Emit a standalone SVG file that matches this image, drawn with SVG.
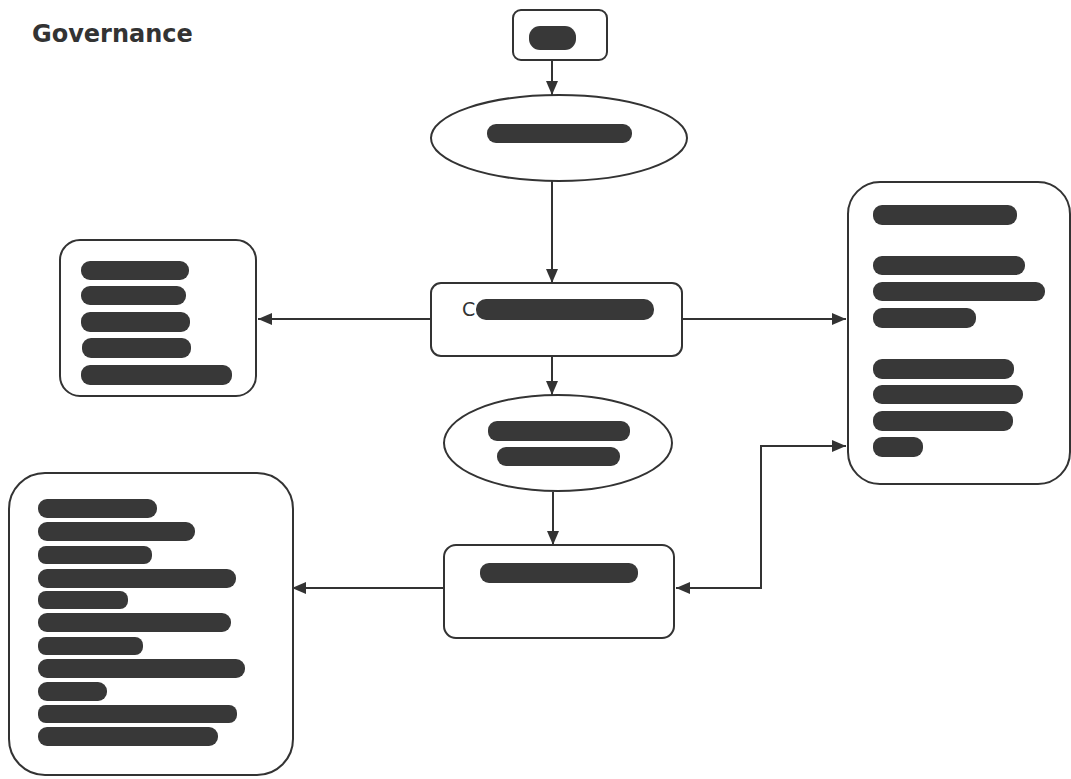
<svg xmlns="http://www.w3.org/2000/svg" width="1071" height="779" viewBox="0 0 1071 779">
<style>
.node{fill:#fff;stroke:#333;stroke-width:2}
.bar{fill:#383838}
.edge{fill:none;stroke:#333;stroke-width:2}
.t{font-family:"DejaVu Sans",Verdana,sans-serif;fill:#333}
</style>
<defs>
<marker id="ah" viewBox="0 0 14 12" refX="14" refY="6" markerWidth="14" markerHeight="12" markerUnits="userSpaceOnUse" orient="auto-start-reverse">
<path d="M0,0 L14,6 L0,12 Z" fill="#333"/>
</marker>
</defs>
<rect width="1071" height="779" fill="#fff"/>
<text class="t" x="32" y="42" font-size="24" font-weight="bold">Governance</text>

<g id="connectors">
<line class="edge" x1="552" y1="60" x2="552" y2="95" marker-end="url(#ah)"/>
<line class="edge" x1="552" y1="181" x2="552" y2="283" marker-end="url(#ah)"/>
<line class="edge" x1="431" y1="319" x2="258" y2="319" marker-end="url(#ah)"/>
<line class="edge" x1="682" y1="319" x2="846" y2="319" marker-end="url(#ah)"/>
<line class="edge" x1="552" y1="356" x2="552" y2="395" marker-end="url(#ah)"/>
<line class="edge" x1="553" y1="492" x2="553" y2="545" marker-end="url(#ah)"/>
<line class="edge" x1="444" y1="588" x2="292" y2="588" marker-end="url(#ah)"/>
<polyline class="edge" points="676,588 761,588 761,446 846,446" marker-start="url(#ah)" marker-end="url(#ah)"/>
</g>

<g id="n-top">
<rect class="node" x="513" y="10" width="94" height="50" rx="8"/>
<rect class="bar" x="529" y="26" width="47" height="24" rx="11"/>
</g>

<g id="n-ellipse1">
<ellipse class="node" cx="559" cy="138" rx="128" ry="43"/>
<rect class="bar" x="487" y="124" width="145" height="19" rx="9"/>
</g>

<g id="n-center">
<rect class="node" x="431" y="283" width="251" height="73" rx="10"/>
<text class="t" x="462" y="316" font-size="19">C</text>
<rect class="bar" x="476" y="299" width="178" height="21" rx="10"/>
</g>

<g id="n-left">
<rect class="node" x="60" y="240" width="196" height="156" rx="20"/>
<rect class="bar" x="81" y="261" width="108" height="19" rx="9"/>
<rect class="bar" x="81" y="286" width="105" height="19" rx="9"/>
<rect class="bar" x="81" y="312" width="109" height="20" rx="9"/>
<rect class="bar" x="82" y="338" width="109" height="20" rx="9"/>
<rect class="bar" x="81" y="365" width="151" height="20" rx="9"/>
</g>

<g id="n-right">
<rect class="node" x="848" y="182" width="222" height="302" rx="32"/>
<rect class="bar" x="873" y="205" width="144" height="20" rx="9"/>
<rect class="bar" x="873" y="256" width="152" height="19" rx="9"/>
<rect class="bar" x="873" y="282" width="172" height="19" rx="9"/>
<rect class="bar" x="873" y="308" width="103" height="20" rx="9"/>
<rect class="bar" x="873" y="359" width="141" height="20" rx="9"/>
<rect class="bar" x="873" y="385" width="150" height="19" rx="9"/>
<rect class="bar" x="873" y="411" width="140" height="20" rx="9"/>
<rect class="bar" x="873" y="437" width="50" height="20" rx="9"/>
</g>

<g id="n-ellipse2">
<ellipse class="node" cx="558" cy="443" rx="114" ry="48"/>
<rect class="bar" x="488" y="421" width="142" height="20" rx="9"/>
<rect class="bar" x="497" y="447" width="123" height="19" rx="9"/>
</g>

<g id="n-bottom">
<rect class="node" x="444" y="545" width="230" height="93" rx="12"/>
<rect class="bar" x="480" y="563" width="158" height="20" rx="9"/>
</g>

<g id="n-bottomleft">
<rect class="node" x="9" y="473" width="284" height="302" rx="36"/>
<rect class="bar" x="38" y="499" width="119" height="19" rx="9"/>
<rect class="bar" x="38" y="522" width="157" height="19" rx="9"/>
<rect class="bar" x="38" y="546" width="114" height="18" rx="8"/>
<rect class="bar" x="38" y="569" width="198" height="19" rx="9"/>
<rect class="bar" x="38" y="591" width="90" height="18" rx="8"/>
<rect class="bar" x="38" y="613" width="193" height="19" rx="9"/>
<rect class="bar" x="38" y="637" width="105" height="18" rx="8"/>
<rect class="bar" x="38" y="659" width="207" height="19" rx="9"/>
<rect class="bar" x="38" y="682" width="69" height="19" rx="9"/>
<rect class="bar" x="38" y="705" width="199" height="18" rx="8"/>
<rect class="bar" x="38" y="727" width="180" height="19" rx="9"/>
</g>
</svg>
